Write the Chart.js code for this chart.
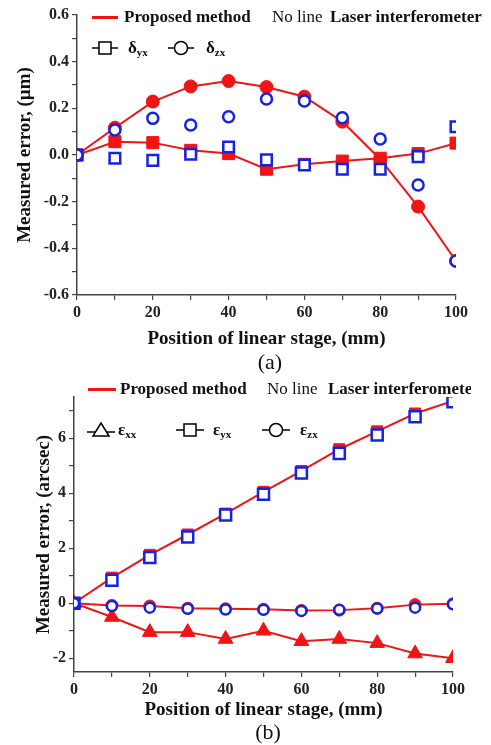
<!DOCTYPE html>
<html>
<head>
<meta charset="utf-8">
<script src="https://cdn.jsdelivr.net/npm/chart.js@4"></script>
<style>
  body { margin: 0; background: #fff; }
  #page { position: relative; width: 491px; height: 745px; overflow: hidden;
          font-family: "Liberation Serif", "DejaVu Serif", serif; color: #111; }
  canvas { position: absolute; left: 0; }
  .t { position: absolute; white-space: nowrap; height: 20px; line-height: 20px; font-size: 17px; }
  .b { font-weight: bold; }
  .t sub { font-size: 11px; vertical-align: -3px; line-height: 0; }
  .sym { position: absolute; }
  .redline { position: absolute; height: 2.5px; background: #f01414; }
  .cap { position: absolute; font-size: 22px; width: 60px; text-align: center; line-height: 24px; }
</style>
</head>
<body>
<div id="page">
  <canvas id="chartA" width="491" height="350" style="top:0"></canvas>
  <canvas id="chartB" width="491" height="355" style="top:370px"></canvas>

  <!-- legend (a) -->
  <div class="redline" style="left:92px;top:16px;width:26px"></div>
  <div class="t b" style="left:124px;top:7px">Proposed method</div>
  <div class="t" style="left:272px;top:7px">No line</div>
  <div class="t b" style="left:330px;top:7px">Laser interferometer</div>
  <svg class="sym" style="left:92px;top:40px" width="26" height="16">
    <line x1="0" y1="8" x2="26" y2="8" stroke="#000" stroke-width="1.5"/>
    <rect x="7" y="2" width="12" height="12" fill="#fff" stroke="#000" stroke-width="1.5"/>
  </svg>
  <div class="t b" style="left:128px;top:38px">δ<sub>yx</sub></div>
  <svg class="sym" style="left:168px;top:40px" width="26" height="16">
    <line x1="0" y1="8" x2="26" y2="8" stroke="#000" stroke-width="1.5"/>
    <circle cx="13" cy="8" r="6.5" fill="#fff" stroke="#000" stroke-width="1.5"/>
  </svg>
  <div class="t b" style="left:206px;top:38px">δ<sub>zx</sub></div>
  <div class="cap" style="left:240px;top:350px">(a)</div>

  <!-- legend (b) -->
  <div class="redline" style="left:88px;top:388px;width:28px"></div>
  <div class="t b" style="left:120px;top:379px">Proposed method</div>
  <div class="t" style="left:267px;top:379px">No line</div>
  <div style="position:absolute;left:328px;top:379px;width:143px;height:20px;overflow:hidden">
    <div class="t b" style="left:0;top:0">Laser interferometer</div>
  </div>
  <svg class="sym" style="left:87px;top:421px" width="28" height="18">
    <line x1="0" y1="11" x2="28" y2="11" stroke="#000" stroke-width="1.5"/>
    <polygon points="14,2 22,15 6,15" fill="#fff" stroke="#000" stroke-width="1.5"/>
  </svg>
  <div class="t b" style="left:118px;top:420px">ε<sub>xx</sub></div>
  <svg class="sym" style="left:176px;top:422px" width="28" height="16">
    <line x1="0" y1="8" x2="28" y2="8" stroke="#000" stroke-width="1.5"/>
    <rect x="8" y="2" width="12" height="12" fill="#fff" stroke="#000" stroke-width="1.5"/>
  </svg>
  <div class="t b" style="left:213px;top:420px">ε<sub>yx</sub></div>
  <svg class="sym" style="left:262px;top:422px" width="28" height="16">
    <line x1="0" y1="8" x2="28" y2="8" stroke="#000" stroke-width="1.5"/>
    <circle cx="14" cy="8" r="6.5" fill="#fff" stroke="#000" stroke-width="1.5"/>
  </svg>
  <div class="t b" style="left:300px;top:420px">ε<sub>zx</sub></div>
  <div class="cap" style="left:238px;top:720px">(b)</div>
</div>

<script>
// stage positions (mm)
const positions = [0, 10, 20, 30, 40, 50, 60, 70, 80, 90, 100];

// (a) straightness errors, um
const propYxA  = [0, 0.057, 0.053, 0.02, 0.006, -0.061, -0.04, -0.026, -0.014, 0.006, 0.051];
const propZxA  = [0, 0.117, 0.229, 0.294, 0.317, 0.291, 0.25, 0.143, -0.018, -0.221, -0.454];
const laserYxA = [0, -0.014, -0.023, 0.003, 0.034, -0.021, -0.043, -0.061, -0.061, -0.007, 0.121];
const laserZxA = [0, 0.107, 0.157, 0.129, 0.164, 0.24, 0.231, 0.16, 0.069, -0.129, -0.454];

// (b) angular errors, arcsec
const propXxB  = [0, -0.5, -1.05, -1.05, -1.3, -1.0, -1.38, -1.3, -1.45, -1.83, -2.0];
const propYxB  = [0, 0.93, 1.76, 2.5, 3.26, 4.05, 4.81, 5.6, 6.25, 6.9, 7.36];
const propZxB  = [0, -0.08, -0.1, -0.18, -0.2, -0.22, -0.26, -0.25, -0.18, -0.05, -0.02];
const laserYxB = [0, 0.84, 1.66, 2.41, 3.21, 3.96, 4.74, 5.45, 6.12, 6.78, 7.33];
const laserZxB = [0, -0.1, -0.16, -0.2, -0.23, -0.24, -0.28, -0.24, -0.19, -0.16, -0.04];

// ticks and labels
const xTicks   = [0, 10, 20, 30, 40, 50, 60, 70, 80, 90, 100];
const xLabels  = [0, 20, 40, 60, 80, 100];
const yTicksA  = [-0.6, -0.5, -0.4, -0.3, -0.2, -0.1, 0, 0.1, 0.2, 0.3, 0.4, 0.5, 0.6];
const yLabelsA = [-0.6, -0.4, -0.2, 0, 0.2, 0.4, 0.6];
const yTicksB  = [-2, -1, 0, 1, 2, 3, 4, 5, 6, 7];
const yLabelsB = [-2, 0, 2, 4, 6];

const RED = '#f01414';
const BLUE = '#1424e6';
const AXIS = '#444';
const FONT = '"Liberation Serif", "DejaVu Serif", serif';

function pts(vals) {
  return positions.map((x, i) => ({ x: x, y: vals[i] }));
}

function proposed(vals, style, radius) {
  return {
    data: pts(vals), showLine: true, borderColor: RED, borderWidth: 2,
    pointStyle: style, pointRadius: radius, pointBorderWidth: 1,
    pointBackgroundColor: RED, pointBorderColor: RED
  };
}

// open markers, white inside, no line
function laser(vals, style, radius) {
  return {
    data: pts(vals), showLine: false,
    pointStyle: style, pointRadius: radius, pointBorderWidth: 2.5,
    pointBackgroundColor: '#fff', pointBorderColor: BLUE
  };
}

function axis(min, max, ticks, labels, fmt, title, size, titlePad) {
  return {
    type: 'linear', min: min, max: max,
    afterBuildTicks: (s) => { s.ticks = ticks.map(v => ({ value: v })); },
    afterFit: (s) => { if (s.isHorizontal()) s.height = size; else s.width = size; },
    border: { display: true, color: AXIS, width: 1.5 },
    grid: { drawOnChartArea: false, drawTicks: true, tickLength: 5, color: AXIS, lineWidth: 1.2 },
    ticks: {
      autoSkip: false, maxRotation: 0, padding: 3, color: '#222',
      font: { family: FONT, size: 16, weight: 'bold' },
      callback: (v) => labels.some(l => Math.abs(l - v) < 1e-9) ? fmt(v) : ''
    },
    title: {
      display: true, text: title, color: '#111', padding: titlePad,
      font: { family: FONT, size: 19, weight: 'bold' }
    }
  };
}

function makeChart(id, datasets, xScale, yScale, padding) {
  return new Chart(document.getElementById(id), {
    type: 'scatter',
    data: { datasets: datasets },
    options: {
      responsive: false, animation: false,
      layout: { padding: padding },
      plugins: { legend: { display: false }, tooltip: { enabled: false } },
      scales: { x: xScale, y: yScale }
    }
  });
}

// first dataset is painted last, so laser markers go first to sit on top
makeChart('chartA', [
  laser(laserZxA, 'circle', 5.5),
  laser(laserYxA, 'rect', 7.5),
  proposed(propZxA, 'circle', 6.5),
  proposed(propYxA, 'rect', 8.5)
],
  axis(0, 100, xTicks, xLabels, v => String(v), 'Position of linear stage, (mm)', 55, { top: 0, bottom: 0 }),
  axis(-0.6, 0.6, yTicksA, yLabelsA, v => v.toFixed(1), 'Measured error, (\u00b5m)', 77, { top: 13.5, bottom: 0 }),
  { top: 15, right: 35, left: 0, bottom: 0 });

makeChart('chartB', [
  laser(laserZxB, 'circle', 5),
  laser(laserYxB, 'rect', 7.8),
  proposed(propYxB, 'rect', 7.8),
  proposed(propZxB, 'circle', 6),
  proposed(propXxB, 'triangle', 8.5)
],
  axis(0, 100, xTicks, xLabels, v => String(v), 'Position of linear stage, (mm)', 53, { top: 0, bottom: 3.5 }),
  axis(-2.5, 7.5, yTicksB, yLabelsB, v => String(v), 'Measured error, (arcsec)', 74, { top: 32.5, bottom: 0 }),
  { top: 27, right: 38, left: 0, bottom: 0 });
</script>
</body>
</html>
